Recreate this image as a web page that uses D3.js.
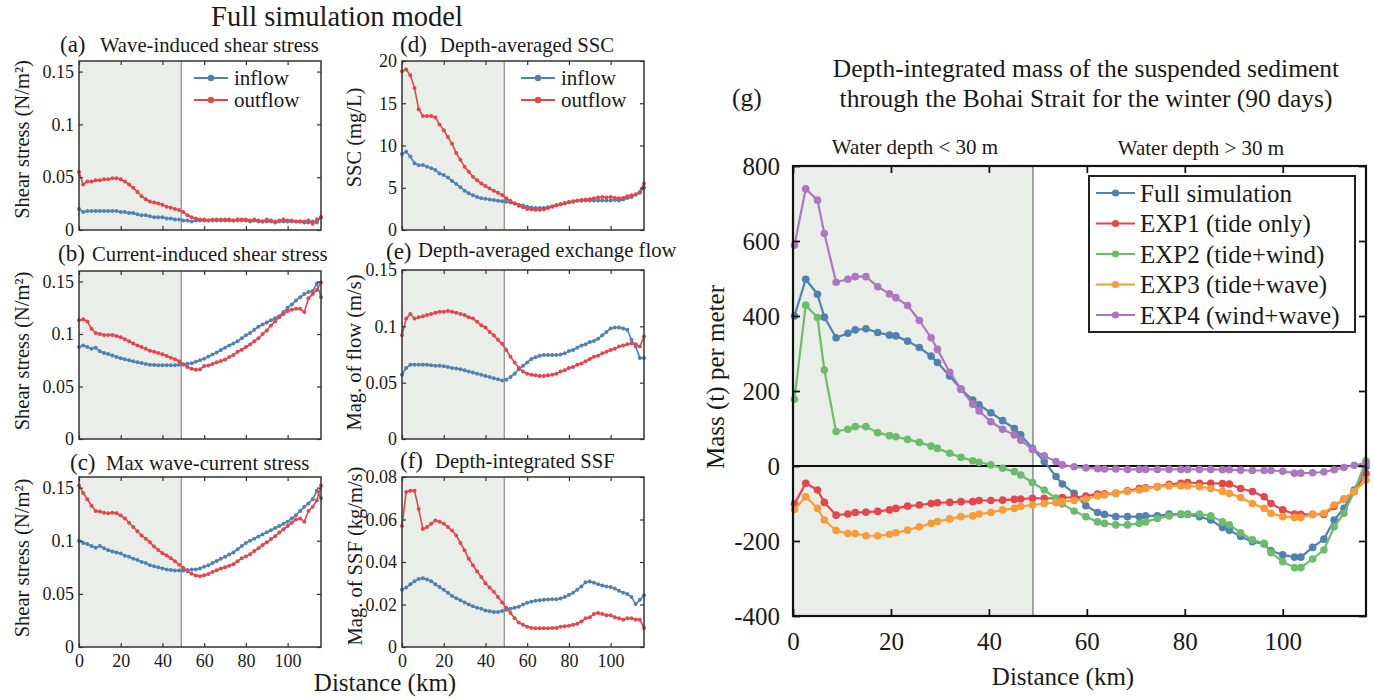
<!DOCTYPE html>
<html>
<head>
<meta charset="utf-8">
<script src="https://cdn.jsdelivr.net/npm/d3@7"></script>
<style>
  body { margin: 0; background: #fff; }
  text { font-family: "Liberation Serif", "Times New Roman", serif; fill: #1a1a1a; }
</style>
</head>
<body>
<div id="chart"></div>
<script>
// distance along the transect (km), panels a-f
var km = [0,2,4,6,8,10,12,14,16,18,20,22,24,26,28,30,32,34,36,38,40,42,44,46,48,50,52,54,56,58,
  60,62,64,66,68,70,72,74,76,78,80,82,84,86,88,90,92,94,96,98,100,102,104,106,108,110,112,114,116];

// (a) wave-induced shear stress (N/m2)
var aIn = [0.020,0.017,0.018,0.018,0.018,0.018,0.018,0.018,0.018,0.018,
  0.017,0.017,0.016,0.016,0.015,0.014,0.014,0.013,0.012,0.012,
  0.012,0.011,0.011,0.010,0.010,0.009,0.009,0.008,0.009,0.009,
  0.009,0.009,0.009,0.009,0.009,0.009,0.009,0.009,0.009,0.009,
  0.009,0.008,0.009,0.008,0.008,0.008,0.008,0.007,0.008,0.008,
  0.008,0.008,0.008,0.008,0.007,0.007,0.008,0.007,0.012];
var aOut = [0.055,0.043,0.046,0.046,0.047,0.047,0.048,0.048,0.049,0.049,
  0.048,0.046,0.043,0.040,0.036,0.032,0.029,0.027,0.026,0.025,
  0.024,0.022,0.021,0.020,0.019,0.017,0.014,0.012,0.011,0.010,
  0.010,0.009,0.010,0.010,0.010,0.010,0.010,0.009,0.010,0.010,
  0.010,0.009,0.010,0.009,0.008,0.010,0.009,0.008,0.009,0.010,
  0.009,0.009,0.008,0.008,0.008,0.009,0.006,0.010,0.012];

// (b) current-induced shear stress (N/m2)
var bIn = [0.0876,0.089,0.0876,0.086,0.087,0.0835,0.082,0.081,0.0795,0.078,
  0.077,0.076,0.075,0.074,0.073,0.0724,0.0715,0.0708,0.0705,0.0702,
  0.0702,0.0702,0.0702,0.0703,0.0708,0.0711,0.0716,0.0722,0.0735,0.075,
  0.0765,0.0785,0.0805,0.0825,0.0848,0.087,0.089,0.091,0.093,0.096,
  0.0987,0.101,0.104,0.107,0.109,0.111,0.113,0.115,0.117,0.121,
  0.125,0.128,0.132,0.135,0.138,0.140,0.141,0.148,0.135];
var bOut = [0.113,0.114,0.112,0.105,0.101,0.100,0.099,0.099,0.099,0.098,
  0.097,0.095,0.093,0.091,0.089,0.0876,0.086,0.084,0.083,0.082,
  0.0807,0.079,0.0775,0.076,0.074,0.071,0.0686,0.067,0.066,0.0665,
  0.0695,0.070,0.0715,0.073,0.0743,0.0756,0.078,0.080,0.083,0.085,
  0.0876,0.090,0.093,0.096,0.100,0.1034,0.108,0.112,0.116,0.119,
  0.122,0.123,0.124,0.124,0.121,0.134,0.138,0.142,0.149];

// (c) max wave-current stress (N/m2)
var cIn = [0.100,0.098,0.097,0.095,0.0935,0.095,0.093,0.091,0.090,0.089,
  0.088,0.086,0.085,0.083,0.082,0.080,0.079,0.077,0.076,0.075,
  0.074,0.073,0.0725,0.072,0.072,0.072,0.0725,0.073,0.073,0.074,
  0.0755,0.077,0.079,0.081,0.083,0.085,0.087,0.089,0.092,0.095,
  0.098,0.100,0.102,0.104,0.106,0.108,0.110,0.112,0.114,0.116,
  0.118,0.121,0.124,0.128,0.132,0.135,0.139,0.147,0.140];
var cOut = [0.152,0.145,0.139,0.133,0.128,0.1275,0.1263,0.126,0.1263,0.126,
  0.1238,0.121,0.117,0.113,0.109,0.105,0.102,0.0985,0.0945,0.0914,
  0.0883,0.0861,0.0836,0.0806,0.0775,0.0744,0.0713,0.069,0.0673,0.0667,
  0.0676,0.0688,0.0707,0.0722,0.0738,0.075,0.0765,0.078,0.0806,0.0836,
  0.0852,0.0873,0.0904,0.0929,0.096,0.0985,0.1016,0.1043,0.1077,0.1108,
  0.114,0.117,0.120,0.121,0.118,0.128,0.132,0.138,0.152];

// (d) depth-averaged SSC (mg/L)
var dIn = [9.0,9.25,8.7,7.9,7.65,7.7,7.5,7.3,7.1,6.7,
  6.5,6.2,5.8,5.45,5.05,4.65,4.35,4.1,3.9,3.75,
  3.7,3.6,3.55,3.45,3.4,3.35,3.25,3.15,3.0,2.9,
  2.75,2.65,2.6,2.6,2.6,2.7,2.8,2.95,3.05,3.15,
  3.25,3.35,3.45,3.45,3.5,3.5,3.5,3.5,3.5,3.5,
  3.5,3.55,3.5,3.6,3.8,3.9,4.2,4.4,5.0];
var dOut = [18.8,19.0,18.3,16.8,14.3,13.5,13.5,13.5,13.3,12.5,
  11.8,11.0,10.2,9.1,8.3,7.5,6.9,6.3,5.9,5.5,
  5.2,4.9,4.65,4.4,4.15,3.75,3.43,3.15,2.88,2.68,
  2.5,2.45,2.4,2.4,2.45,2.6,2.75,2.9,3.05,3.2,
  3.3,3.4,3.5,3.55,3.6,3.65,3.75,3.85,3.9,3.85,
  3.9,3.8,3.75,3.8,4.0,4.1,4.2,4.5,5.5];

// (e) depth-averaged exchange flow (m/s)
var eIn = [0.057,0.063,0.066,0.066,0.066,0.066,0.066,0.0655,0.065,0.065,
  0.0645,0.064,0.063,0.0625,0.062,0.061,0.060,0.059,0.058,0.057,
  0.056,0.055,0.054,0.053,0.052,0.0525,0.055,0.058,0.062,0.065,
  0.068,0.071,0.0725,0.074,0.0745,0.0745,0.0745,0.0745,0.075,0.076,
  0.078,0.079,0.081,0.083,0.084,0.086,0.087,0.089,0.092,0.095,
  0.098,0.099,0.099,0.098,0.097,0.088,0.082,0.072,0.072];
var eOut = [0.092,0.107,0.111,0.107,0.108,0.109,0.110,0.111,0.112,0.113,
  0.113,0.1135,0.113,0.112,0.111,0.110,0.108,0.107,0.104,0.101,
  0.099,0.095,0.092,0.088,0.0845,0.079,0.073,0.068,0.063,0.060,
  0.058,0.057,0.0565,0.056,0.056,0.0565,0.057,0.058,0.060,0.061,
  0.063,0.064,0.066,0.067,0.069,0.071,0.073,0.074,0.076,0.0775,
  0.079,0.080,0.082,0.083,0.084,0.085,0.084,0.082,0.091];

// (f) depth-integrated SSF (kg/m/s)
var fIn = [0.027,0.028,0.0295,0.031,0.032,0.0323,0.0318,0.031,0.0295,0.0282,
  0.027,0.0255,0.024,0.023,0.022,0.021,0.020,0.0192,0.0185,0.018,
  0.0172,0.0168,0.0165,0.0165,0.017,0.0175,0.018,0.0185,0.019,0.020,
  0.0208,0.0213,0.0218,0.022,0.0222,0.0224,0.0225,0.0225,0.0228,0.0235,
  0.0245,0.0255,0.027,0.0285,0.0305,0.0308,0.0302,0.0295,0.029,0.0285,
  0.0282,0.0275,0.0265,0.0255,0.025,0.0235,0.0202,0.0222,0.0243];
var fOut = [0.057,0.073,0.0735,0.0735,0.065,0.0555,0.0565,0.058,0.0595,0.059,
  0.058,0.0565,0.0548,0.0525,0.049,0.0455,0.0415,0.0385,0.0355,0.033,
  0.030,0.028,0.026,0.0235,0.021,0.0185,0.016,0.0135,0.0115,0.0105,
  0.0095,0.009,0.0088,0.0088,0.0088,0.0088,0.009,0.009,0.0095,0.0098,
  0.010,0.0105,0.011,0.012,0.0135,0.014,0.0155,0.016,0.0155,0.015,
  0.015,0.014,0.0135,0.0128,0.0135,0.0135,0.013,0.0128,0.009];

// (g) depth-integrated mass per meter (t)
var gDist = [0.3,2.6,5.0,6.4,8.8,11.2,12.7,14.9,17.3,19.7,21.0,23.4,25.8,28.2,29.5,
  32.0,34.3,36.7,38.0,40.4,42.8,45.2,46.5,48.9,51.3,53.7,55.0,57.4,59.8,62.2,
  63.6,65.9,68.3,70.7,72.0,74.4,76.8,79.2,80.6,83.0,85.3,87.7,89.1,91.4,93.8,
  96.2,97.6,100.0,102.4,103.7,106.1,108.4,110.5,112.5,114.6,117.0];
var gFull = [400,498,458,397,342,354,363,366,356,349,347,333,316,293,276,
  240,205,176,163,142,121,100,83,47,12,-28,-48,-73,-106,-124,
  -129,-135,-135,-135,-133,-133,-128,-129,-129,-135,-144,-164,-171,-188,-202,
  -208,-226,-237,-243,-243,-217,-195,-144,-113,-64,-2];
var gExp1 = [-101,-46,-64,-97,-131,-128,-124,-123,-121,-117,-113,-107,-104,-100,-98,
  -97,-95,-95,-92,-92,-91,-89,-88,-86,-86,-86,-84,-84,-80,-75,
  -74,-73,-66,-60,-58,-55,-49,-46,-44,-46,-46,-47,-48,-60,-68,
  -82,-100,-117,-128,-129,-129,-129,-108,-88,-68,-20];
var gExp2 = [178,429,396,256,92,98,105,105,89,81,78,71,63,53,47,
  34,23,14,10,3,-6,-15,-24,-44,-64,-86,-101,-120,-135,-149,
  -153,-157,-157,-153,-149,-140,-133,-128,-128,-128,-133,-149,-157,-178,-197,
  -206,-231,-255,-271,-271,-248,-224,-162,-126,-68,14];
var gExp3 = [-116,-82,-113,-144,-172,-180,-180,-186,-186,-182,-178,-171,-162,-153,-148,
  -141,-135,-133,-128,-124,-117,-113,-108,-104,-100,-98,-95,-92,-88,-80,
  -77,-73,-68,-64,-60,-55,-53,-53,-53,-55,-60,-68,-73,-84,-100,
  -113,-126,-135,-137,-137,-129,-126,-104,-88,-68,-37];
var gExp4 = [589,739,709,620,490,498,505,505,478,459,449,428,388,342,311,
  250,205,165,147,118,98,83,69,44,27,12,3,-2,-5,-7,
  -8,-8,-9,-9,-9,-9,-9,-9,-9,-9,-9,-10,-10,-11,-12,
  -12,-12,-14,-19,-19,-18,-16,-10,-4,2,8];
var gNames = ["Full simulation", "EXP1 (tide only)", "EXP2 (tide+wind)", "EXP3 (tide+wave)", "EXP4 (wind+wave)"];

var xTicks = [0, 20, 40, 60, 80, 100];
var gYTicks = [-400, -200, 0, 200, 400, 600, 800];

var C_IN = "#4f82b3", C_OUT = "#e6454c";
var gColors = ["#4f82b3", "#e6454c", "#6cbd6a", "#f99c38", "#ab78bf"];
var SHADE = "#e9eee8";

var svg = d3.select("#chart").append("svg")
  .attr("width", 1374).attr("height", 700);

svg.append("text").attr("x", 337).attr("y", 26).attr("text-anchor", "middle")
  .attr("font-size", "28.5px").text("Full simulation model");

// draw a framed MATLAB-like axes box, ticks inward on all sides
function drawAxes(g, x, y, o) {
  var w = o.w, h = o.h;
  var left = d3.axisLeft(y).tickValues(o.yTicks).tickSize(-o.tick).tickSizeOuter(0)
    .tickPadding(o.yPad).tickFormat(function (d) { return String(d); });
  var right = d3.axisRight(y).tickValues(o.yTicks).tickSize(-o.tick).tickSizeOuter(0).tickFormat("");
  var bottom = d3.axisBottom(x).tickValues(o.xTicks).tickSize(-o.tick).tickSizeOuter(0)
    .tickPadding(o.xPad).tickFormat(o.showX ? function (d) { return String(d); } : "");
  var top = d3.axisTop(x).tickValues(o.xTicks).tickSize(-o.tick).tickSizeOuter(0).tickFormat("");

  var axes = [
    g.append("g").call(left),
    g.append("g").attr("transform", "translate(" + w + ",0)").call(right),
    g.append("g").attr("transform", "translate(0," + h + ")").call(bottom),
    g.append("g").call(top)
  ];
  axes.forEach(function (a) {
    a.select(".domain").remove();
    a.selectAll(".tick line").attr("stroke", o.frame).attr("stroke-width", o.frameW * 0.8);
    a.selectAll(".tick text").attr("font-family", "Liberation Serif").attr("font-size", o.tickFont)
      .attr("fill", "#1a1a1a");
  });
  g.append("rect").attr("width", w).attr("height", h)
    .attr("fill", "none").attr("stroke", o.frame).attr("stroke-width", o.frameW);
}

function drawSeries(g, x, y, xs, ys, color, r, lw) {
  var pts = xs.map(function (d, i) { return [d, ys[i]]; });
  var line = d3.line().x(function (d) { return x(d[0]); }).y(function (d) { return y(d[1]); });
  g.append("path").datum(pts).attr("d", line).attr("fill", "none")
    .attr("stroke", color).attr("stroke-width", lw).attr("stroke-linejoin", "round");
  g.append("g").selectAll("circle").data(pts).enter().append("circle")
    .attr("cx", function (d) { return x(d[0]); })
    .attr("cy", function (d) { return y(d[1]); })
    .attr("r", r).attr("fill", color);
}

var panels = [
  { x0: 79, y0: 61, h: 169, yDom: [0, 0.16], yTicks: [0, 0.05, 0.1, 0.15], inS: aIn, outS: aOut,
    lab: "(a)", labX: 60, labBase: 52, title: "Wave-induced shear stress", titleX: 100, base: 52,
    ylab: "Shear stress (N/m²)", ylabX: 22, ylabDy: -6, legend: 115, showX: false },
  { x0: 79, y0: 271, h: 168, yDom: [0, 0.16], yTicks: [0, 0.05, 0.1, 0.15], inS: bIn, outS: bOut,
    lab: "(b)", labX: 58, labBase: 261, title: "Current-induced shear stress", titleX: 92, base: 261,
    ylab: "Shear stress (N/m²)", ylabX: 22, ylabDy: -4, legend: 0, showX: false },
  { x0: 79, y0: 477, h: 170, yDom: [0, 0.16], yTicks: [0, 0.05, 0.1, 0.15], inS: cIn, outS: cOut,
    lab: "(c)", labX: 70, labBase: 470, title: "Max wave-current stress", titleX: 106, base: 470,
    ylab: "Shear stress (N/m²)", ylabX: 22, ylabDy: -4, legend: 0, showX: true },
  { x0: 402, y0: 61, h: 169, yDom: [0, 20], yTicks: [0, 5, 10, 15, 20], inS: dIn, outS: dOut,
    lab: "(d)", labX: 400, labBase: 52, title: "Depth-averaged SSC", titleX: 440, base: 52,
    ylab: "SSC (mg/L)", ylabX: 354, ylabDy: -8, legend: 119, showX: false },
  { x0: 402, y0: 270, h: 169, yDom: [0, 0.15], yTicks: [0, 0.05, 0.1, 0.15], inS: eIn, outS: eOut,
    lab: "(e)", labX: 386, labBase: 259, title: "Depth-averaged exchange flow", titleX: 418, base: 257,
    ylab: "Mag. of flow (m/s)", ylabX: 354, ylabDy: -2, legend: 0, showX: false },
  { x0: 402, y0: 477, h: 170, yDom: [0, 0.08], yTicks: [0, 0.02, 0.04, 0.06, 0.08], inS: fIn, outS: fOut,
    lab: "(f)", labX: 400, labBase: 468, title: "Depth-integrated SSF", titleX: 435, base: 468,
    ylab: "Mag. of SSF (kg/m/s)", ylabX: 355, ylabDy: -6, legend: 0, showX: true }
];

panels.forEach(function (p) {
  var w = 242;
  var x = d3.scaleLinear().domain([0, 116]).range([0, w]);
  var y = d3.scaleLinear().domain(p.yDom).range([p.h, 0]);
  var g = svg.append("g").attr("transform", "translate(" + p.x0 + "," + p.y0 + ")");

  g.append("rect").attr("width", x(49)).attr("height", p.h).attr("fill", SHADE);
  g.append("line").attr("x1", x(49)).attr("x2", x(49)).attr("y1", 0).attr("y2", p.h)
    .attr("stroke", "#777").attr("stroke-width", 1);

  drawSeries(g, x, y, km, p.inS, C_IN, 2, 1.6);
  drawSeries(g, x, y, km, p.outS, C_OUT, 2, 1.6);

  drawAxes(g, x, y, { w: w, h: p.h, yTicks: p.yTicks, xTicks: xTicks, tick: 4, yPad: 5, xPad: 7,
    showX: p.showX, frame: "#333", frameW: 1.5, tickFont: "18px" });

  svg.append("text").attr("x", p.labX).attr("y", p.labBase).attr("font-size", "23px").text(p.lab);
  svg.append("text").attr("x", p.titleX).attr("y", p.base).attr("font-size", "20.7px").text(p.title);
  svg.append("text")
    .attr("transform", "translate(" + p.ylabX + "," + (p.y0 + p.h / 2 + p.ylabDy) + ") rotate(-90)")
    .attr("text-anchor", "middle").attr("dominant-baseline", "central")
    .attr("font-size", "20.5px").text(p.ylab);

  if (p.legend) {
    var lg = g.append("g").attr("transform", "translate(" + p.legend + ",17)");
    [["inflow", C_IN], ["outflow", C_OUT]].forEach(function (e, i) {
      var row = lg.append("g").attr("transform", "translate(0," + i * 22 + ")");
      row.append("line").attr("x1", 0).attr("x2", 34).attr("stroke", e[1]).attr("stroke-width", 2);
      row.append("circle").attr("cx", 17).attr("r", 3.2).attr("fill", e[1]);
      row.append("text").attr("x", 40).attr("dominant-baseline", "central")
        .attr("font-size", "21px").text(e[0]);
    });
  }
});

svg.append("text").attr("x", 385).attr("y", 691).attr("text-anchor", "middle")
  .attr("font-size", "25px").text("Distance (km)");

// ---- panel (g)
var G = { x0: 793, y0: 166, w: 573, h: 450 };
var gx = d3.scaleLinear().domain([0, 117]).range([0, G.w]);
var gy = d3.scaleLinear().domain([-400, 800]).range([G.h, 0]);
var gg = svg.append("g").attr("transform", "translate(" + G.x0 + "," + G.y0 + ")");

gg.append("rect").attr("width", gx(49)).attr("height", G.h).attr("fill", SHADE);
gg.append("line").attr("x1", gx(49)).attr("x2", gx(49)).attr("y1", 0).attr("y2", G.h)
  .attr("stroke", "#555").attr("stroke-width", 1);
gg.append("line").attr("x1", 0).attr("x2", G.w).attr("y1", gy(0)).attr("y2", gy(0))
  .attr("stroke", "#111").attr("stroke-width", 2.2);

[gFull, gExp1, gExp2, gExp3, gExp4].forEach(function (s, i) {
  drawSeries(gg, gx, gy, gDist, s, gColors[i], 3.8, 2.2);
});

drawAxes(gg, gx, gy, { w: G.w, h: G.h, yTicks: gYTicks, xTicks: xTicks, tick: 7, yPad: 13, xPad: 16,
  showX: true, frame: "#111", frameW: 2.2, tickFont: "25px" });

// legend
var lgG = svg.append("g").attr("transform", "translate(1089,176)");
lgG.append("rect").attr("width", 266).attr("height", 156).attr("fill", "#fff")
  .attr("stroke", "#222").attr("stroke-width", 2);
gNames.forEach(function (n, i) {
  var row = lgG.append("g").attr("transform", "translate(0," + (17 + i * 30.5) + ")");
  row.append("line").attr("x1", 7).attr("x2", 46).attr("stroke", gColors[i]).attr("stroke-width", 2.2);
  row.append("circle").attr("cx", 26.5).attr("r", 3.6).attr("fill", gColors[i]);
  row.append("text").attr("x", 51).attr("dominant-baseline", "central")
    .attr("font-size", "25px").text(n);
});

svg.append("text").attr("x", 1086).attr("y", 77).attr("text-anchor", "middle")
  .attr("font-size", "25.5px").text("Depth-integrated mass of the suspended sediment");
svg.append("text").attr("x", 1086).attr("y", 107).attr("text-anchor", "middle")
  .attr("font-size", "25.5px").text("through the Bohai Strait for the winter (90 days)");
svg.append("text").attr("x", 732).attr("y", 106).attr("font-size", "25.5px").text("(g)");
svg.append("text").attr("x", 915).attr("y", 154).attr("text-anchor", "middle")
  .attr("font-size", "21px").text("Water depth < 30 m");
svg.append("text").attr("x", 1201).attr("y", 155).attr("text-anchor", "middle")
  .attr("font-size", "21px").text("Water depth > 30 m");
svg.append("text")
  .attr("transform", "translate(715,377) rotate(-90)")
  .attr("text-anchor", "middle").attr("dominant-baseline", "central")
  .attr("font-size", "25px").text("Mass (t) per meter");
svg.append("text").attr("x", 1063).attr("y", 685).attr("text-anchor", "middle")
  .attr("font-size", "25px").text("Distance (km)");
</script>
</body>
</html>
